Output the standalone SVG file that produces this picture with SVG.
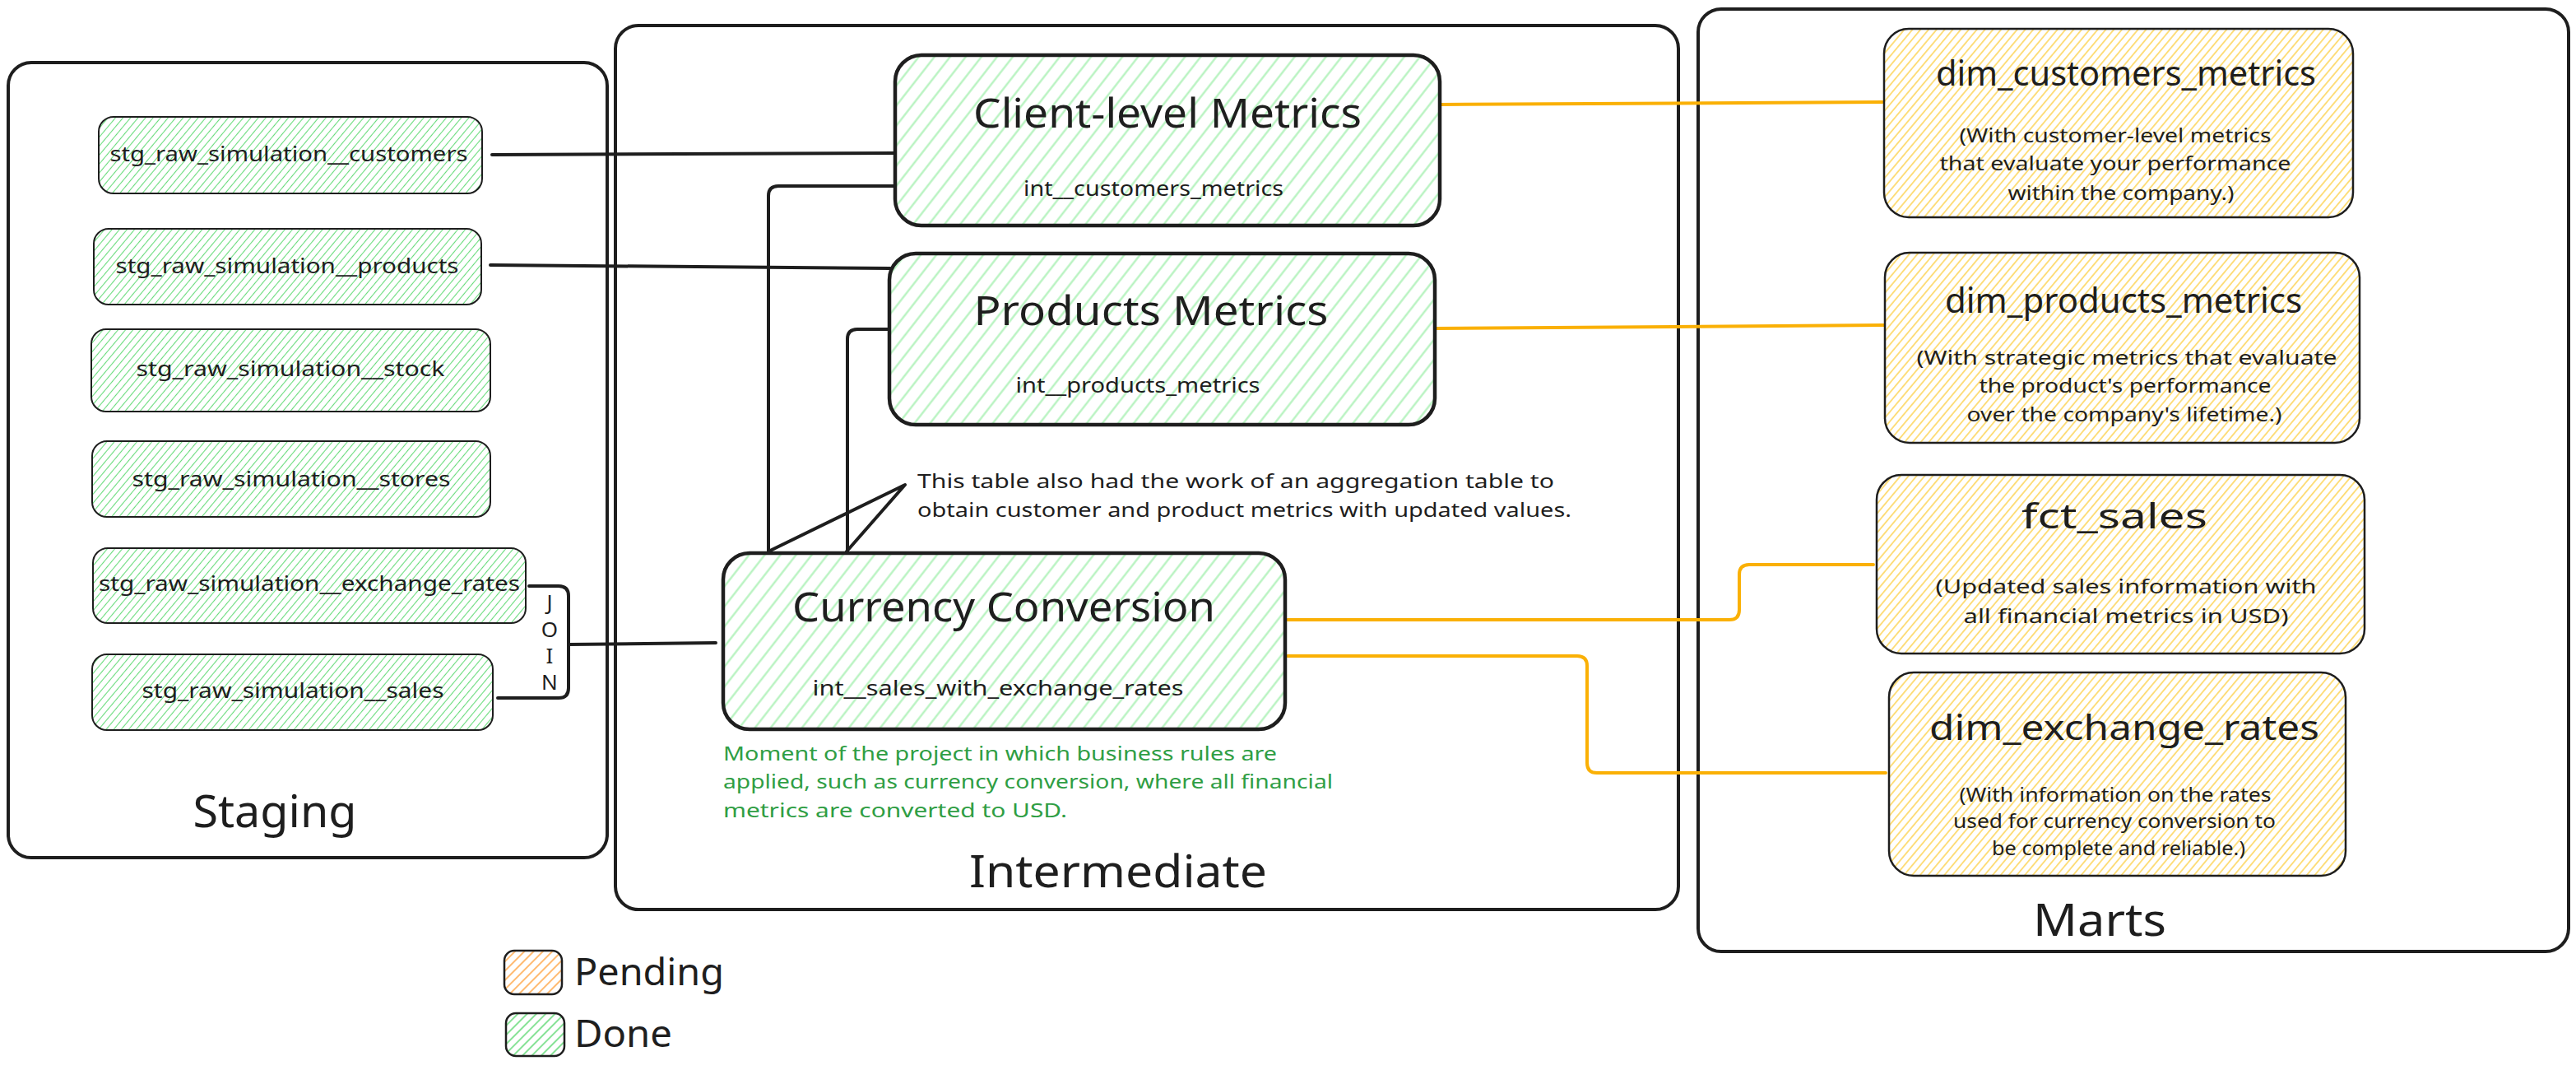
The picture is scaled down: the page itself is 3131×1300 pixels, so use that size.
<svg xmlns="http://www.w3.org/2000/svg" width="3131" height="1300" viewBox="0 0 3131 1300">
<defs>
<pattern id="hStg" patternUnits="userSpaceOnUse" width="7" height="7" patternTransform="rotate(40)"><line x1="3.5" y1="0" x2="3.5" y2="7" stroke="#69db7c" stroke-width="1.1"/></pattern>
<pattern id="hInt" patternUnits="userSpaceOnUse" width="15" height="15" patternTransform="rotate(38)"><line x1="7.5" y1="0" x2="7.5" y2="15" stroke="#b2f2bb" stroke-width="2.2"/></pattern>
<pattern id="hMart" patternUnits="userSpaceOnUse" width="7.5" height="7.5" patternTransform="rotate(40)"><line x1="3.75" y1="0" x2="3.75" y2="7.5" stroke="#fcc419" stroke-width="1.1"/></pattern>
<pattern id="hPend" patternUnits="userSpaceOnUse" width="8" height="8" patternTransform="rotate(45)"><line x1="4" y1="0" x2="4" y2="8" stroke="#ffa94d" stroke-width="1.6"/></pattern>
<pattern id="hDone" patternUnits="userSpaceOnUse" width="8" height="8" patternTransform="rotate(45)"><line x1="4" y1="0" x2="4" y2="8" stroke="#69db7c" stroke-width="1.6"/></pattern>
</defs>
<style>
.box{fill:none;stroke:#1e1e1e;stroke-width:4}
.stg{fill:url(#hStg);stroke:#1e1e1e;stroke-width:2}
.int{fill:url(#hInt);stroke:#1e1e1e;stroke-width:4.5}
.mart{fill:url(#hMart);stroke:#1e1e1e;stroke-width:2.5}
text{font-family:"Noto Sans","DejaVu Sans",sans-serif;fill:#1e1e1e}
.c{text-anchor:middle}
.s25{font-size:25px}
.s24{font-size:24px}
.big{font-size:54px}
.ttl{font-size:50px}
.mt{font-size:42px}
.grn{fill:#2f9e44}
.blk{fill:none;stroke:#1e1e1e;stroke-width:4;stroke-linecap:round;stroke-linejoin:round}
.org{fill:none;stroke:#fab005;stroke-width:4;stroke-linecap:round;stroke-linejoin:round}
</style>
<rect width="3131" height="1300" fill="#ffffff"/>

<g id="container-staging">
<rect class="box" x="10" y="76" width="728" height="966" rx="28"/>
<text class="c big" x="334" y="1005" textLength="199" lengthAdjust="spacingAndGlyphs">Staging</text>
</g>
<g id="container-intermediate">
<rect class="box" x="748" y="31" width="1292" height="1074" rx="28"/>
<text class="c big" x="1359" y="1078" textLength="362" lengthAdjust="spacingAndGlyphs">Intermediate</text>
</g>
<g id="container-marts">
<rect class="box" x="2064" y="11" width="1058" height="1145" rx="28"/>
<text class="c big" x="2552" y="1137" textLength="162" lengthAdjust="spacingAndGlyphs">Marts</text>
</g>

<g id="connectors">
<path class="blk" d="M598 188 L1088 186"/>
<path class="blk" d="M596 322 L1082 326"/>
<path class="blk" d="M934 670 V238 Q934 226 946 226 H1086"/>
<path class="blk" d="M1030 670 V412 Q1030 400 1042 400 H1080"/>
<path class="blk" d="M643 712 H679 Q691 712 691 724 V836 Q691 848 679 848 H605"/>
<path class="blk" d="M691 783 L870 781"/>
<path class="blk" stroke-width="3" d="M934 670 L1100 589 L1029 670"/>
<path class="org" d="M1750 127 L2288 124"/>
<path class="org" d="M1745 399 L2290 395"/>
<path class="org" d="M1565 753 H2102 Q2114 753 2114 741 V698 Q2114 686 2126 686 H2277"/>
<path class="org" d="M1565 797 H1917 Q1929 797 1929 809 V927 Q1929 939 1941 939 H2292"/>
<g id="join-label">
<text class="c" style="font-size:26px" x="668" y="741">J</text>
<text class="c" style="font-size:26px" x="668" y="774">O</text>
<text class="c" style="font-size:26px" x="668" y="806">I</text>
<text class="c" style="font-size:26px" x="668" y="838">N</text>
</g>
</g>

<g id="stg-customers">
<rect class="stg" x="120" y="142" width="466" height="93" rx="18"/>
<text class="c s25" x="351" y="196" textLength="435" lengthAdjust="spacingAndGlyphs">stg_raw_simulation__customers</text>
</g>
<g id="stg-products">
<rect class="stg" x="114" y="278" width="471" height="92" rx="18"/>
<text class="c s25" x="349" y="332" textLength="417" lengthAdjust="spacingAndGlyphs">stg_raw_simulation__products</text>
</g>
<g id="stg-stock">
<rect class="stg" x="111" y="400" width="485" height="100" rx="18"/>
<text class="c s25" x="353" y="457" textLength="375" lengthAdjust="spacingAndGlyphs">stg_raw_simulation__stock</text>
</g>
<g id="stg-stores">
<rect class="stg" x="112" y="536" width="484" height="92" rx="18"/>
<text class="c s25" x="354" y="591" textLength="387" lengthAdjust="spacingAndGlyphs">stg_raw_simulation__stores</text>
</g>
<g id="stg-exchange-rates">
<rect class="stg" x="113" y="666" width="526" height="91" rx="18"/>
<text class="c s25" x="376" y="718" textLength="512" lengthAdjust="spacingAndGlyphs">stg_raw_simulation__exchange_rates</text>
</g>
<g id="stg-sales">
<rect class="stg" x="112" y="795" width="487" height="92" rx="18"/>
<text class="c s25" x="356" y="848" textLength="367" lengthAdjust="spacingAndGlyphs">stg_raw_simulation__sales</text>
</g>

<g id="int-customers-metrics">
<rect class="int" x="1088" y="67" width="662" height="207" rx="32"/>
<text class="c ttl" x="1419" y="155" textLength="472" lengthAdjust="spacingAndGlyphs">Client-level Metrics</text>
<text class="c s25" x="1402" y="238" textLength="316" lengthAdjust="spacingAndGlyphs">int__customers_metrics</text>
</g>
<g id="int-products-metrics">
<rect class="int" x="1081" y="308" width="663" height="208" rx="32"/>
<text class="c ttl" x="1399" y="395" textLength="431" lengthAdjust="spacingAndGlyphs">Products Metrics</text>
<text class="c s25" x="1383" y="477" textLength="297" lengthAdjust="spacingAndGlyphs">int__products_metrics</text>
</g>
<g id="int-sales-with-exchange-rates">
<rect class="int" x="879" y="672" width="683" height="214" rx="32"/>
<text class="c ttl" x="1220" y="755" textLength="514" lengthAdjust="spacingAndGlyphs">Currency Conversion</text>
<text class="c s25" x="1213" y="845" textLength="451" lengthAdjust="spacingAndGlyphs">int__sales_with_exchange_rates</text>
</g>

<g id="note-aggregation">
<text class="s24" x="1115" y="593" textLength="774" lengthAdjust="spacingAndGlyphs">This table also had the work of an aggregation table to</text>
<text class="s24" x="1115" y="628" textLength="795" lengthAdjust="spacingAndGlyphs">obtain customer and product metrics with updated values.</text>
</g>
<g id="note-business-rules">
<text class="s24 grn" x="879" y="924" textLength="673" lengthAdjust="spacingAndGlyphs">Moment of the project in which business rules are</text>
<text class="s24 grn" x="879" y="958" textLength="741" lengthAdjust="spacingAndGlyphs">applied, such as currency conversion, where all financial</text>
<text class="s24 grn" x="879" y="993" textLength="418" lengthAdjust="spacingAndGlyphs">metrics are converted to USD.</text>
</g>

<g id="dim-customers-metrics">
<rect class="mart" x="2290" y="35" width="570" height="229" rx="30"/>
<text class="c mt" x="2584" y="104" textLength="462" lengthAdjust="spacingAndGlyphs">dim_customers_metrics</text>
<text class="c s24" x="2571" y="173" textLength="379" lengthAdjust="spacingAndGlyphs">(With customer-level metrics</text>
<text class="c s24" x="2571" y="207" textLength="427" lengthAdjust="spacingAndGlyphs">that evaluate your performance</text>
<text class="c s24" x="2578" y="243" textLength="275" lengthAdjust="spacingAndGlyphs">within the company.)</text>
</g>
<g id="dim-products-metrics">
<rect class="mart" x="2291" y="307" width="577" height="231" rx="30"/>
<text class="c mt" x="2581" y="380" textLength="434" lengthAdjust="spacingAndGlyphs">dim_products_metrics</text>
<text class="c s24" x="2585" y="443" textLength="511" lengthAdjust="spacingAndGlyphs">(With strategic metrics that evaluate</text>
<text class="c s24" x="2583" y="477" textLength="355" lengthAdjust="spacingAndGlyphs">the product's performance</text>
<text class="c s24" x="2582" y="512" textLength="383" lengthAdjust="spacingAndGlyphs">over the company's lifetime.)</text>
</g>
<g id="fct-sales">
<rect class="mart" x="2281" y="577" width="593" height="217" rx="30"/>
<text class="c mt" x="2570" y="642" textLength="226" lengthAdjust="spacingAndGlyphs">fct_sales</text>
<text class="c s24" x="2584" y="721" textLength="463" lengthAdjust="spacingAndGlyphs">(Updated sales information with</text>
<text class="c s24" x="2584" y="757" textLength="395" lengthAdjust="spacingAndGlyphs">all financial metrics in USD)</text>
</g>
<g id="dim-exchange-rates">
<rect class="mart" x="2296" y="817" width="555" height="247" rx="30"/>
<text class="c mt" x="2582" y="899" textLength="474" lengthAdjust="spacingAndGlyphs">dim_exchange_rates</text>
<text class="c s24" x="2571" y="974" textLength="379" lengthAdjust="spacingAndGlyphs">(With information on the rates</text>
<text class="c s24" x="2570" y="1006" textLength="392" lengthAdjust="spacingAndGlyphs">used for currency conversion to</text>
<text class="c s24" x="2575" y="1039" textLength="308" lengthAdjust="spacingAndGlyphs">be complete and reliable.)</text>
</g>

<g id="legend-pending">
<rect x="613" y="1155" width="70" height="53" rx="12" fill="url(#hPend)" stroke="#1e1e1e" stroke-width="2.5"/>
<text style="font-size:46px" x="698" y="1197" textLength="182" lengthAdjust="spacingAndGlyphs">Pending</text>
</g>
<g id="legend-done">
<rect x="615" y="1231" width="71" height="52" rx="12" fill="url(#hDone)" stroke="#1e1e1e" stroke-width="2.5"/>
<text style="font-size:46px" x="698" y="1272" textLength="119" lengthAdjust="spacingAndGlyphs">Done</text>
</g>
</svg>
